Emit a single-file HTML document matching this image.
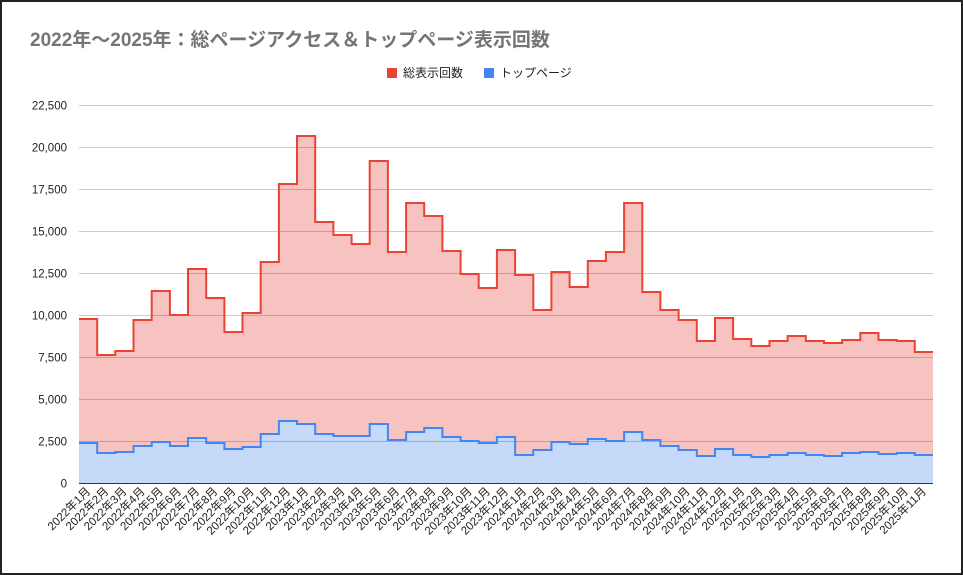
<!DOCTYPE html>
<html><head><meta charset="utf-8"><style>
html,body{margin:0;padding:0;background:#fff}
svg{display:block}
text{font-family:"Liberation Sans","Noto Sans CJK JP",sans-serif}
</style></head><body>
<svg id="s" width="963" height="575" xmlns="http://www.w3.org/2000/svg">
<rect x="1" y="1" width="961" height="573" fill="#fff" stroke="#222" stroke-width="2"/>
<text x="30" y="46" font-size="19" font-weight="bold" fill="#757575">2022年～2025年：総ページアクセス＆トップページ表示回数</text>
<rect x="387" y="68" width="10" height="10" fill="#ea4335"/>
<text x="403" y="77" font-size="12" fill="#222">総表示回数</text>
<rect x="484" y="68" width="10" height="10" fill="#4285f4"/>
<text x="500" y="77" font-size="12" fill="#222">トップページ</text>
<g id="series"></g>
<g id="grid"></g>
<g id="xl"></g>
</svg>
<script>
(function(){
var s=document.getElementById('s'),NS='http://www.w3.org/2000/svg';
function el(t,a,p,txt){var e=document.createElementNS(NS,t);for(var k in a)e.setAttribute(k,a[k]);if(txt!=null)e.textContent=txt;(p||s).appendChild(e);return e;}
var x0=79,x1=933,y0=483,yt=105,n=47,w=(x1-x0)/n;
var red=[319,355,351,320,291,315,269,298,332,313,262,184,136,222,235,244,161,252,203,216,251,274,288,250,275,310,272,287,261,252,203,292,310,320,341,318,339,346,341,336,341,343,340,333,340,341,352];
var blue=[443,453,452,446,442,446,438,443,449,447,434,421,424,434,436,436,424,440,432,428,437,441,443,437,455,450,442,444,439,441,432,440,446,450,456,449,455,457,455,453,455,456,453,452,454,453,455];
var sg=document.getElementById('series');
function path(v){var d='M'+x0+' '+v[0];for(var i=0;i<n;i++){var xa=x0+i*w,xb=x0+(i+1)*w;if(i>0)d+=' L'+xa.toFixed(1)+' '+v[i];d+=' L'+xb.toFixed(1)+' '+v[i];}return d;}
function fillp(v,fill){el('path',{d:path(v)+' L'+x1+' '+y0+' L'+x0+' '+y0+' Z',fill:fill,stroke:'none'},sg);}
fillp(red,'#f6c3c0');fillp(blue,'#c5d9f9');
var g=document.getElementById('grid');
var labs=['0','2,500','5,000','7,500','10,000','12,500','15,000','17,500','20,000','22,500'];
for(var i=0;i<10;i++){var y=Math.round(y0-(y0-yt)*i/9)+0.5;
 el('line',{x1:x0,x2:x1,y1:y,y2:y,stroke:i==0?'#333':'rgba(0,0,0,0.2)','stroke-width':1},g);
 el('text',{x:67,y:y+4,'font-size':11.5,fill:'#222','text-anchor':'end'},g,labs[i]);}
el('path',{d:path(red),fill:'none',stroke:'#ea4335','stroke-width':2},g);
el('path',{d:path(blue),fill:'none',stroke:'#4285f4','stroke-width':2},g);
var xl=document.getElementById('xl');
for(var i=0;i<n;i++){var yr=2022+Math.floor(i/12),m=i%12+1;var cx=x0+(i+0.5)*w;
 el('text',{x:cx+3,y:y0+9,'font-size':11.5,fill:'#222','text-anchor':'end',transform:'rotate(-45 '+(cx+3)+' '+(y0+9)+')'},xl,yr+'年'+m+'月');}
})();
</script>
</body></html>
